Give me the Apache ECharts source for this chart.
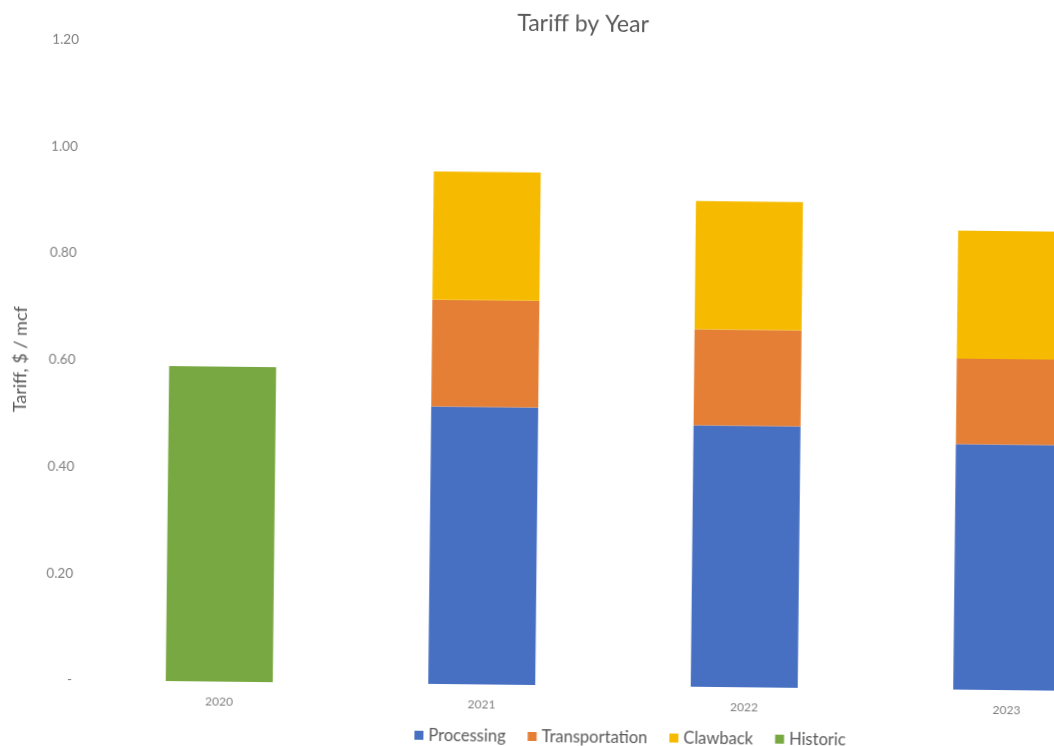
<!DOCTYPE html>
<html>
<head>
<meta charset="utf-8">
<title>Tariff by Year</title>
<script src="https://cdn.jsdelivr.net/npm/echarts@6/dist/echarts.min.js"></script>
<style>
  html, body { margin: 0; padding: 0; background: #fff; overflow: hidden; width: 1054px; height: 746px; }
  /* the scanned original is tilted a little, so the chart is too */
  #main { position: absolute; left: 0; top: 0; width: 1152px; height: 746px;
          transform: rotate(0.62deg); transform-origin: 163px 681px; }
</style>
</head>
<body>
<div id="main"></div>
<script>
var years = ['2020', '2021', '2022', '2023'];
var processing = ['-', 0.52, 0.49, 0.46];
var transportation = ['-', 0.20, 0.18, 0.16];
var clawback = ['-', 0.24, 0.24, 0.24];
var historic = [0.59, '-', '-', '-'];
var yTicks = [0, 0.2, 0.4, 0.6, 0.8, 1.0, 1.2];

(function(){
  var chart = echarts.init(document.getElementById('main'));
  var font = 'Lato, "Open Sans", sans-serif';

  var option = {
    textStyle: { fontFamily: font },
    title: {
      text: 'Tariff by Year',
      left: 'center',
      top: 3,
      textStyle: { fontFamily: font, fontSize: 23, fontWeight: 'normal', color: '#595959' }
    },
    legend: {
      data: ['Processing', 'Transportation', 'Clawback', 'Historic'],
      left: 410,
      top: 719,
      icon: 'rect',
      itemWidth: 9,
      itemHeight: 9,
      itemGap: 22,
      textStyle: { fontFamily: font, fontSize: 16.5, color: '#595959' }
    },
    grid: { left: 84, right: 14, top: 40.5, bottom: 65 },
    xAxis: {
      type: 'category',
      data: years,
      axisLine: { show: false },
      axisTick: { show: false },
      axisLabel: { margin: 14, fontSize: 12, color: '#7f7f7f', fontFamily: font }
    },
    yAxis: {
      type: 'value',
      min: yTicks[0],
      max: yTicks[yTicks.length - 1],
      interval: 0.2,
      name: 'Tariff, $ / mcf',
      nameLocation: 'middle',
      nameGap: 62,
      nameTextStyle: { fontFamily: font, fontSize: 18, color: '#595959' },
      splitLine: { show: false },
      axisLine: { show: false },
      axisTick: { show: false },
      axisLabel: {
        margin: 16,
        fontSize: 13.5,
        color: '#7f7f7f',
        fontFamily: font,
        formatter: function (v) { return v === 0 ? '-' : v.toFixed(2); }
      }
    },
    series: [
      { name: 'Processing', type: 'bar', stack: 'total', barWidth: 107, data: processing, itemStyle: { color: '#4870c2' } },
      { name: 'Transportation', type: 'bar', stack: 'total', data: transportation, itemStyle: { color: '#e57f35' } },
      { name: 'Clawback', type: 'bar', stack: 'total', data: clawback, itemStyle: { color: '#f6bb00' } },
      { name: 'Historic', type: 'bar', stack: 'total', data: historic, itemStyle: { color: '#78a841' } }
    ]
  };

  chart.setOption(option);
})()
</script>
</body>
</html>
